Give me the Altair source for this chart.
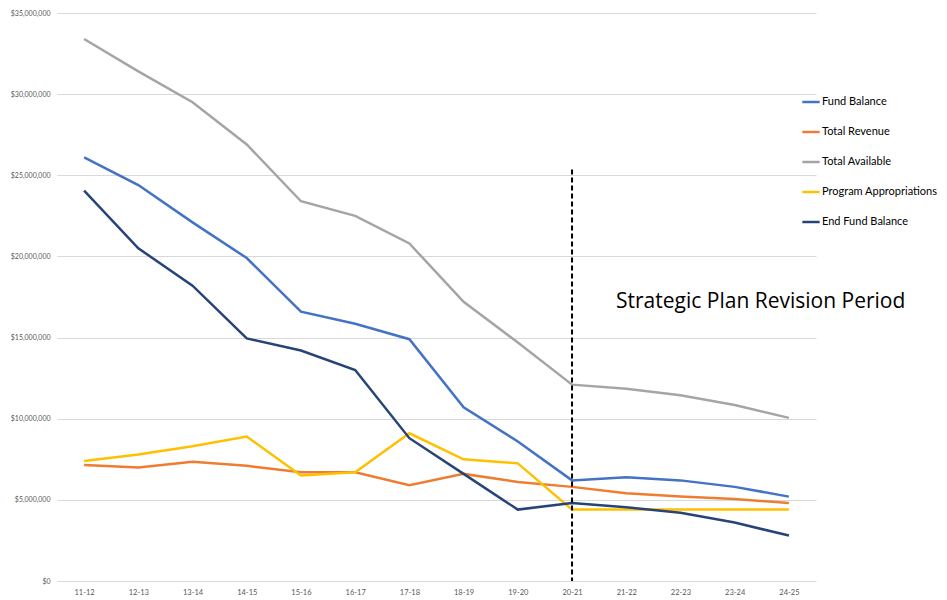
import altair as alt
import pandas as pd

years = ["11-12", "12-13", "13-14", "14-15", "15-16", "16-17", "17-18",
         "18-19", "19-20", "20-21", "21-22", "22-23", "23-24", "24-25"]

fund_balance = [26.1, 24.4, 22.1, 19.9, 16.6, 15.85, 14.9, 10.7, 8.6, 6.2, 6.4, 6.2, 5.8, 5.2]
total_revenue = [7.15, 7.0, 7.35, 7.1, 6.7, 6.7, 5.9, 6.6, 6.1, 5.8, 5.4, 5.2, 5.05, 4.8]
total_available = [33.4, 31.4, 29.5, 26.9, 23.4, 22.5, 20.8, 17.2, 14.7, 12.1, 11.85, 11.45, 10.85, 10.05]
program_appropriations = [7.4, 7.8, 8.3, 8.9, 6.5, 6.7, 9.1, 7.5, 7.25, 4.4, 4.4, 4.4, 4.4, 4.4]
end_fund_balance = [24.05, 20.5, 18.2, 14.95, 14.2, 13.0, 8.8, 6.6, 4.4, 4.8, 4.55, 4.2, 3.6, 2.8]

series_names = ["Fund Balance", "Total Revenue", "Total Available",
                "Program Appropriations", "End Fund Balance"]
series_colors = ["#4472C4", "#ED7D31", "#A5A5A5", "#FFC000", "#264478"]
series_values = [fund_balance, total_revenue, total_available,
                 program_appropriations, end_fund_balance]

rows = []
for name, vals in zip(series_names, series_values):
    for y, v in zip(years, vals):
        rows.append({"Year": y, "Series": name, "Value": v * 1_000_000})
df = pd.DataFrame(rows)

marker_year = ["20-21"]
marker_top = [25.35 * 1_000_000]
annotation_text = ["Strategic Plan Revision Period"]
annotation_value = [17.2 * 1_000_000]

x_scale = alt.Scale(type="point", domain=years, padding=0.5)

x_enc = alt.X("Year:N", sort=years, scale=x_scale,
              axis=alt.Axis(title=None, labelAngle=0, domain=False, ticks=False,
                            labelFontSize=7.5, labelColor="#595959", labelPadding=7,
                            labelFont="Lato"))

lines = alt.Chart(df).mark_line(strokeWidth=2.5).encode(
    x=x_enc,
    y=alt.Y("Value:Q", scale=alt.Scale(domain=[0, 35_000_000], nice=False),
            axis=alt.Axis(title=None, format="$,.0f", values=list(range(0, 35_000_001, 5_000_000)),
                          domain=False, ticks=False, labelFontSize=7, labelColor="#595959",
                          labelPadding=7, gridColor="#D9D9D9", labelFont="Lato")),
    color=alt.Color("Series:N", sort=series_names,
                    scale=alt.Scale(domain=series_names, range=series_colors),
                    legend=alt.Legend(title=None, orient="none", legendX=744, legendY=79,
                                      symbolType="stroke", symbolSize=300, symbolStrokeWidth=2.5,
                                      labelFontSize=11, labelFont="Lato", labelColor="#000000",
                                      rowPadding=15, labelOffset=1, labelLimit=200)),
    order=alt.value(0),
)

marker_df = pd.DataFrame({"Year": marker_year, "top": marker_top, "bottom": [0]})
rule = alt.Chart(marker_df).mark_rule(color="black", strokeWidth=2, strokeDash=[5, 3]).encode(
    x=alt.X("Year:N", sort=years, scale=x_scale),
    y=alt.Y("top:Q"),
    y2=alt.Y2("bottom:Q"),
)

text_df = pd.DataFrame({"Year": marker_year, "Value": annotation_value, "label": annotation_text})
text = alt.Chart(text_df).mark_text(align="left", baseline="middle", dx=44, fontSize=21,
                                    font="Open Sans", color="#000000").encode(
    x=alt.X("Year:N", sort=years, scale=x_scale),
    y=alt.Y("Value:Q"),
    text="label:N",
)

chart = alt.layer(lines, rule, text).properties(
    width=759, height=568,
    autosize=alt.AutoSizeParams(type="none"),
    padding={"left": 49, "top": 5, "right": 123, "bottom": 19},
).configure_view(stroke=None)

chart.save("out.html", embed_options={"renderer": "svg", "actions": False})
